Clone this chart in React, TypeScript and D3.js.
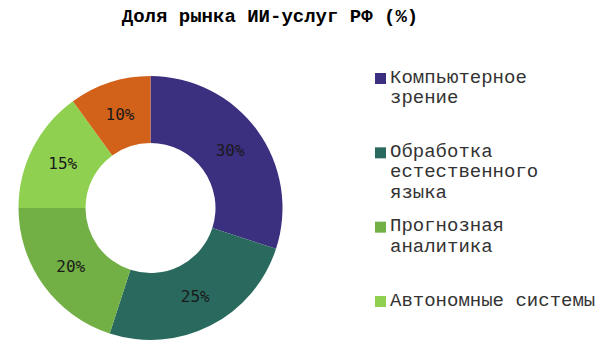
import { useEffect, useRef } from "react";
import * as d3 from "d3";

const categories = ["Компьютерное зрение", "Обработка естественного языка", "Прогнозная аналитика", "Автономные системы"];
const legendLines = [["Компьютерное", "зрение"], ["Обработка", "естественного", "языка"], ["Прогнозная", "аналитика"], ["Автономные системы"]];
const shares = [30, 25, 20, 15, 10];
const sliceNames = [...categories, "Прочее"];
const colors = ["#3b2f7f", "#2a6a5e", "#72b045", "#90d050", "#d2611a"];

export default function App() {
    const ref = useRef<SVGSVGElement>(null);

    useEffect(() => {
        const width = 600;
        const height = 352;
        const cx = 150.5, cy = 208;
        const outer = 132, inner = 65;

        const svg = d3.select(ref.current);
        svg.selectAll("*").remove();

        // title
        svg.append("text")
            .attr("x", 270)
            .attr("y", 22)
            .attr("text-anchor", "middle")
            .style("font-family", "'Liberation Mono', 'Courier New', monospace")
            .style("font-weight", "bold")
            .style("font-size", "19px")
            .text("Доля рынка ИИ-услуг РФ (%)");

        const pie = d3.pie<number>().sort(null).value(d => d);
        const arc = d3.arc<d3.PieArcDatum<number>>().innerRadius(inner).outerRadius(outer);
        const arcs = pie(shares);

        const g = svg.append("g").attr("transform", `translate(${cx},${cy})`);

        g.selectAll("path")
            .data(arcs)
            .join("path")
            .attr("d", arc)
            .attr("fill", (d, i) => colors[i]);

        g.selectAll("text")
            .data(arcs)
            .join("text")
            .attr("transform", d => `translate(${arc.centroid(d)})`)
            .attr("text-anchor", "middle")
            .attr("dy", "0.36em")
            .style("font-family", "'DejaVu Sans Mono', monospace")
            .style("font-size", "16px")
            .attr("fill", "#1a1a1a")
            .text(d => `${d.data}%`);

        // legend
        const legendY = d3.scaleLinear().domain([0, 3]).range([72, 295]);
        const legend = svg.append("g")
            .selectAll("g")
            .data(legendLines)
            .join("g")
            .attr("transform", (d, i) => `translate(375,${legendY(i)})`);

        legend.append("rect")
            .attr("x", 0)
            .attr("y", 1)
            .attr("width", 11)
            .attr("height", 11)
            .attr("fill", (d, i) => colors[i]);

        legend.append("text")
            .style("font-family", "'Liberation Mono', 'Courier New', monospace")
            .style("font-size", "19px")
            .attr("fill", "#333")
            .selectAll("tspan")
            .data(d => d)
            .join("tspan")
            .attr("x", 15)
            .attr("y", (d, i) => 10.5 + i * 20.5)
            .text(d => d);

        svg.attr("width", width).attr("height", height);
    }, []);

    return (
        <svg ref={ref} width={600} height={352} style={{ position: "absolute", left: 0, top: 0, background: "#fff" }}
            aria-label={sliceNames.join(", ")} />
    );
}
